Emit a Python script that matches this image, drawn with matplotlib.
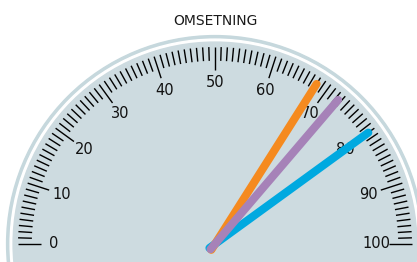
import numpy as np
import matplotlib.pyplot as plt
from matplotlib.patches import Circle

# --- data ---
title = "OMSETNING"
tick_labels = [0, 10, 20, 30, 40, 50, 60, 70, 80, 90, 100]
needle_values = [80, 68, 72.5]          # blue, orange, purple (draw order)
needle_colors = ['#00a9e0', '#f58a1f', '#a682b8']

def ang(v):
    # 0 -> left (180 deg), 100 -> right (0 deg)
    return np.deg2rad(180 - v * 1.8)

fig = plt.figure(figsize=(4.17, 2.62), dpi=100)
ax = fig.add_axes([0, 0, 1, 1])
ax.set_xlim(-215 / 197, 202 / 197)
ax.set_ylim(-18 / 197, 244 / 197)
ax.set_aspect('equal')
ax.axis('off')

# dial face + outer ring
ax.add_patch(Circle((0, 0), 1.058, color='#c6d8dd', zorder=0))
ax.add_patch(Circle((0, 0), 1.04, color='white', zorder=0))
ax.add_patch(Circle((0, 0), 1.025, color='#cddbe0', zorder=0))

# ticks
for v in range(0, 101):
    a = ang(v)
    r0 = 0.885 if v % 10 == 0 else 0.93
    ax.plot([r0 * np.cos(a), np.cos(a)], [r0 * np.sin(a), np.sin(a)],
            color='black', lw=1.0, solid_capstyle='butt', zorder=1)

for v in tick_labels:
    a = ang(v)
    ax.text(0.82 * np.cos(a), 0.82 * np.sin(a), str(v), ha='center', va='center',
            fontsize=10.5, color='#111111', zorder=2)

# needles
for v, c in zip(needle_values, needle_colors):
    a = ang(v)
    ax.plot([-0.035 * np.cos(a), 0.962 * np.cos(a)], [-0.035 * np.sin(a), 0.962 * np.sin(a)],
            color=c, lw=5.8, solid_capstyle='round', zorder=3)

fig.text(215 / 417, 1 - 21 / 262, title, ha='center', va='center', fontsize=10,
         color='#1a1a1a', fontweight='medium')

fig.savefig('out.png', dpi=100)
